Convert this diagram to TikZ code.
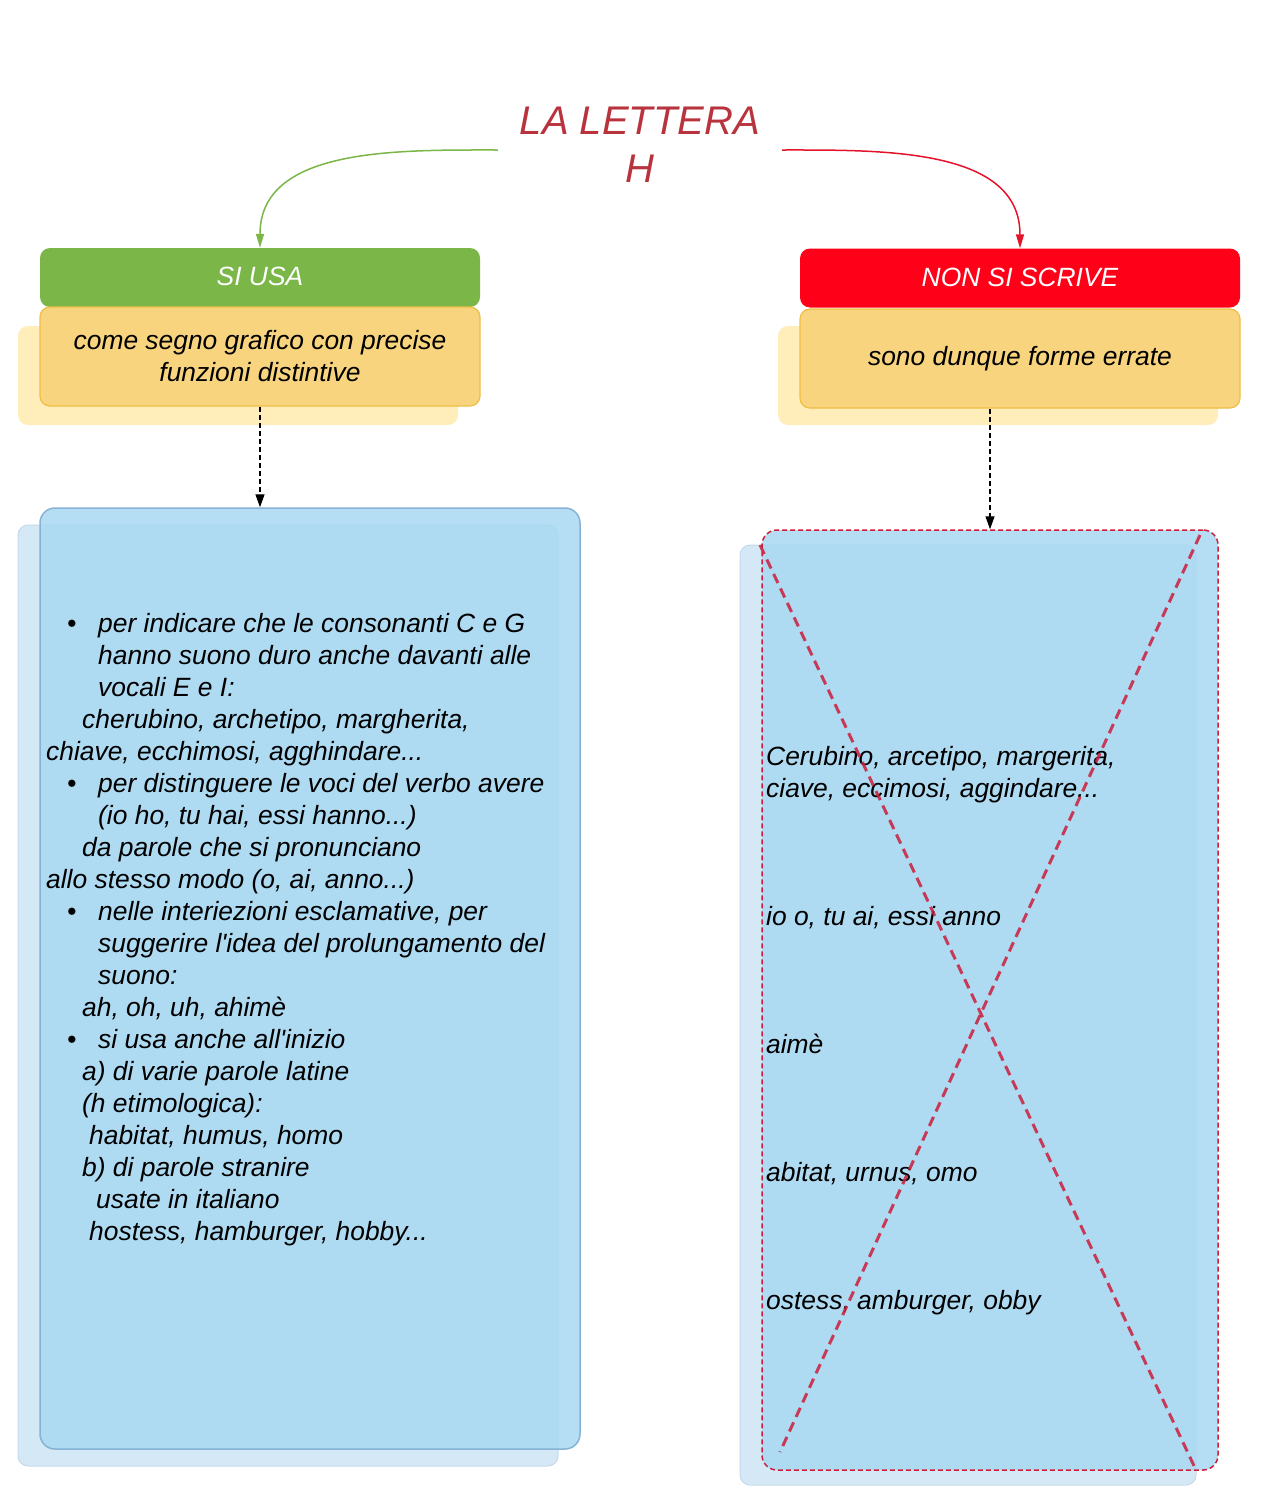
\documentclass[tikz,border=0pt]{standalone}
\usepackage{fontspec}
\setmainfont{Liberation Sans}
\usetikzlibrary{arrows.meta}
\definecolor{usagreen}{HTML}{7AB648}
\definecolor{nonred}{HTML}{FF0019}
\definecolor{arrowred}{HTML}{E3132C}
\definecolor{titlered}{HTML}{B8333D}
\definecolor{noteyellow}{HTML}{F7D47D}
\definecolor{noteedge}{HTML}{EFBF45}
\definecolor{ghostyellow}{HTML}{FFEDBA}
\definecolor{panelblue}{HTML}{A8D8F2}
\definecolor{paneledge}{HTML}{86B2D6}
\definecolor{ghostblue}{HTML}{D5E8F5}
\definecolor{ghostedge}{HTML}{C4DAEC}
\definecolor{crossred}{HTML}{CC1F3C}
\newcommand{\bul}{\makebox[31pt][l]{•}}
\newcommand{\apo}{\textquotesingle}
\tikzset{
  titolo/.style={align=center, text=titlered, inner xsep=22pt,
    font=\itshape\fontsize{40}{48}\selectfont},
  head/.style={rounded corners=10pt, minimum width=440pt, minimum height=59pt,
    text=white, font=\itshape\fontsize{26.4}{32}\selectfont},
  note/.style={rounded corners=10pt, minimum width=440pt, minimum height=99pt,
    fill=noteyellow, draw=noteedge, line width=1.2pt, align=center,
    font=\itshape\fontsize{26.4}{32}\selectfont},
  ghostnote/.style={rounded corners=10pt, minimum width=440pt, minimum height=99pt,
    fill=ghostyellow},
  panel/.style={rounded corners=15pt, fill=panelblue, fill opacity=0.85},
  ghostpanel/.style={rounded corners=10pt, fill=ghostblue, draw=ghostedge, line width=1pt},
  riga/.style={anchor=base west, inner sep=0pt,
    font=\itshape\fontsize{26.4}{32}\selectfont},
  curvarrow/.style={line width=1.5pt, -{Triangle[length=14pt,width=8pt]}},
  dasharrow/.style={line width=1.3pt, dash pattern=on 5pt off 3pt,
    -{Triangle[length=13pt,width=9pt]}},
  crossline/.style={crossred, opacity=0.85, line width=3pt, dash pattern=on 10pt off 6pt}
}
\begin{document}
\begin{tikzpicture}[x=1pt,y=-1pt]
\useasboundingbox (0,0) rectangle (1280,1512);
% titolo
\node [titolo] (lettera) at (640,145) {LA LETTERA\\H};
% colonna sinistra
\node [ghostnote] (usaghost) at (238,375.5) {};
\node [head, fill=usagreen] (usa) at (260,277.5) {\raisebox{2pt}{SI USA}};
\node [note] (funzioni) at (260,356.5) {come segno grafico con precise\\funzioni distintive};
\node [ghostpanel, minimum width=540pt, minimum height=941pt] (usaombra) at (288,995.5) {};
\node [panel, draw=paneledge, draw opacity=1, line width=1.5pt,
  minimum width=540pt, minimum height=941pt] (usapanel) at (310,978.5) {};
% colonna destra
\node [ghostnote] (nonghost) at (998,375.5) {};
\node [head, fill=nonred] (non) at (1020,278) {\raisebox{2pt}{NON SI SCRIVE}};
\node [note] (errate) at (1020,358.5) {sono dunque forme errate};
\node [ghostpanel, minimum width=456pt, minimum height=940pt] (nonombra) at (968,1015) {};
\node [panel, draw=crossred, draw opacity=1, line width=1.5pt, dash pattern=on 5pt off 3pt,
  minimum width=456pt, minimum height=940pt] (nonpanel) at (990,1000) {};
% frecce
\draw [curvarrow, usagreen] ([yshift=-5pt]lettera.west) to[out=180,in=90] (usa.north);
\draw [curvarrow, arrowred] ([yshift=-5pt]lettera.east) to[out=0,in=90] (non.north);
\draw [dasharrow] (funzioni.south) -- (funzioni.south |- usapanel.north);
\draw [dasharrow] (errate.south -| nonpanel.north) -- (nonpanel.north);
% testo si usa
\node [riga] (u1) at (67,632) {\bul per indicare che le consonanti C e G};
\node [riga] (u2) at (98,664) {hanno suono duro anche davanti alle};
\node [riga] (u3) at (98,696) {vocali E e I:};
\node [riga] (u4) at (82,728) {cherubino, archetipo, margherita,};
\node [riga] (u5) at (46,760) {chiave, ecchimosi, agghindare...};
\node [riga] (u6) at (67,792) {\bul per distinguere le voci del verbo avere};
\node [riga] (u7) at (98,824) {(io ho, tu hai, essi hanno...)};
\node [riga] (u8) at (82,856) {da parole che si pronunciano};
\node [riga] (u9) at (46,888) {allo stesso modo (o, ai, anno...)};
\node [riga] (u10) at (67,920) {\bul nelle interiezioni esclamative, per};
\node [riga] (u11) at (98,952) {suggerire l\apo idea del prolungamento del};
\node [riga] (u12) at (98,984) {suono:};
\node [riga] (u13) at (82,1016) {ah, oh, uh, ahimè};
\node [riga] (u14) at (67,1048) {\bul si usa anche all\apo inizio};
\node [riga] (u15) at (82,1080) {a) di varie parole latine};
\node [riga] (u16) at (82,1112) {(h etimologica):};
\node [riga] (u17) at (89,1144) {habitat, humus, homo};
\node [riga] (u18) at (82,1176) {b) di parole stranire};
\node [riga] (u19) at (96,1208) {usate in italiano};
\node [riga] (u20) at (89,1240) {hostess, hamburger, hobby...};
% testo non si scrive
\node [riga] (n1) at (766,765) {Cerubino, arcetipo, margerita,};
\node [riga] (n2) at (766,797) {ciave, eccimosi, aggindare...};
\node [riga] (n3) at (766,925) {io o, tu ai, essi anno};
\node [riga] (n4) at (766,1053) {aimè};
\node [riga] (n5) at (766,1181) {abitat, urnus, omo};
\node [riga] (n6) at (766,1309) {ostess, amburger, obby};
% croce
\draw [crossline] (760,545) -- (1196,1470);
\draw [crossline] (1200,535) -- (780,1452);
\end{tikzpicture}
\end{document}
